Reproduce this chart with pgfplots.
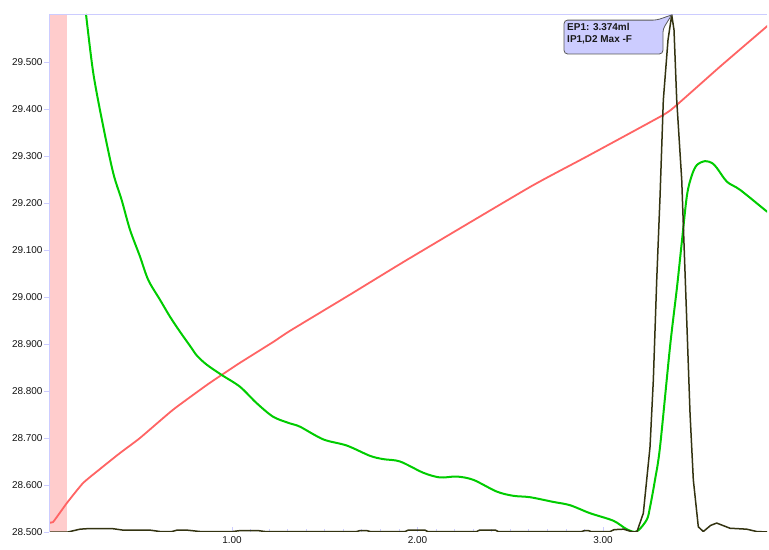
\documentclass[border=0pt]{standalone}
\usepackage{pgfplots}
\pgfplotsset{compat=1.18}
\usepackage{fontspec}
\setmainfont{Liberation Sans}
\definecolor{redc}{RGB}{255,100,100}
\definecolor{greenc}{RGB}{0,204,0}
\definecolor{darkc}{RGB}{51,51,17}
\definecolor{pinkc}{RGB}{255,204,204}
\definecolor{axc}{RGB}{204,204,255}
\definecolor{boxc}{RGB}{204,204,255}
\begin{document}
\begin{tikzpicture}
\begin{axis}[
  scale only axis, width=718bp, height=518bp,
  xmin=0.0135, xmax=3.884, ymin=28.5, ymax=29.602,
  axis line style={draw=none},
  xtick pos=bottom, ytick pos=left,
  xtick={1,2,3}, minor x tick num=9,
  ytick={28.5,28.6,28.7,28.8,28.9,29.0,29.1,29.2,29.3,29.4,29.5},
  xtick align=inside, ytick align=outside,
  major tick length=5bp, minor tick length=3bp,
  every tick/.style={draw=axc, line width=0.8bp},
  x tick label style={/pgf/number format/fixed, /pgf/number format/fixed zerofill, /pgf/number format/precision=2, yshift=-1bp},
  y tick label style={/pgf/number format/fixed, /pgf/number format/fixed zerofill, /pgf/number format/precision=3, /pgf/number format/1000 sep={}, xshift=2bp},
  /pgf/number format/assume math mode=true,
  tick label style={font=\fontsize{10}{12}\selectfont, text=black!92},
  clip=true,
]
\addplot[draw=none, fill=pinkc, forget plot] coordinates {(0.0135,28.5) (0.0135,29.602) (0.1105,29.602) (0.1105,28.5)} -- cycle;

\addplot[redc, line width=1.8bp, line join=round, smooth, tension=0.3] coordinates {
(0.0135,28.521) (0.0350,28.521) (0.1105,28.562) (0.1968,28.604) (0.2884,28.634)
(0.3962,28.668) (0.5040,28.700) (0.6819,28.760) (0.8652,28.813) (0.9515,28.836)
(1.0431,28.860) (1.2210,28.904) (1.3127,28.928) (1.6361,29.005) (1.9434,29.079)
(2.6065,29.234) (2.9137,29.299) (3.3235,29.387) (3.3989,29.409)
(3.6307,29.490) (3.8787,29.574) (3.884,29.576)
};

\addplot[greenc, line width=2bp, smooth, tension=0.5, line join=round] coordinates {
(0.2129,29.602) (0.2523,29.476) (0.3062,29.362) (0.3601,29.263) (0.4054,29.206)
(0.4501,29.143) (0.5040,29.086) (0.5488,29.036) (0.6119,28.994) (0.6658,28.958)
(0.7197,28.926) (0.7736,28.896) (0.8113,28.875)
(0.8636,28.856) (0.9445,28.834) (1.0431,28.809) (1.1332,28.774) (1.2226,28.745)
(1.3127,28.731) (1.3666,28.724) (1.4922,28.697) (1.6183,28.684) (1.7439,28.662)
(1.8156,28.655) (1.9057,28.650) (2.0313,28.626) (2.1213,28.616) (2.2113,28.618)
(2.3008,28.611) (2.4270,28.586) (2.5164,28.577) (2.6065,28.574) (2.7321,28.564)
(2.8221,28.557) (2.9299,28.540) (3.0555,28.524) (3.1278,28.506) (3.1817,28.501)
(3.2356,28.526) (3.2534,28.553) (3.2803,28.611) (3.3073,28.681) (3.3612,28.894)
(3.3989,29.021) (3.4259,29.121) (3.4528,29.217) (3.4798,29.260) (3.5067,29.281)
(3.5499,29.289) (3.5876,29.285) (3.6146,29.274) (3.6685,29.245) (3.7385,29.228)
(3.8733,29.185) (3.884,29.182)
};

\addplot[darkc, line width=1.5bp, line join=round] coordinates {
(0.0135,28.500) (0.1159,28.500) (0.1806,28.506) (0.2183,28.507) (0.3585,28.507)
(0.4124,28.504) (0.5580,28.504) (0.6119,28.501) (0.6765,28.501) (0.7035,28.504)
(0.7574,28.504) (0.8275,28.501) (1.0054,28.501) (1.0431,28.503) (1.1402,28.503)
(1.1779,28.501) (1.6720,28.501) (1.6900,28.503) (1.7260,28.503) (1.7450,28.501)
(1.9330,28.501) (1.9500,28.504) (2.0400,28.504) (2.0550,28.501) (2.3190,28.501)
(2.3350,28.504) (2.4200,28.504) (2.4350,28.501) (2.8850,28.501) (2.9000,28.503)
(2.9200,28.503) (2.9350,28.501) (3.0380,28.501) (3.0600,28.505) (3.1100,28.506)
(3.1617,28.500) (3.1833,28.501) (3.2173,28.540) (3.2534,28.681) (3.2712,28.823)
(3.2895,29.036) (3.3073,29.213) (3.3251,29.419) (3.3504,29.547) (3.3704,29.600)
(3.3827,29.568) (3.3973,29.419) (3.4243,29.249) (3.4474,28.994) (3.4690,28.753)
(3.4868,28.611) (3.5137,28.511) (3.5407,28.501) (3.5800,28.514) (3.6127,28.519)
(3.6844,28.508) (3.7744,28.506) (3.8283,28.501) (3.884,28.500)
};

\draw[axc, line width=0.8bp] (rel axis cs:0,1) -- (rel axis cs:0,0) -- (rel axis cs:1,0);
\draw[axc, line width=0.8bp] (rel axis cs:0,1) -- (rel axis cs:1,1);

\draw[fill=boxc, draw=black!65, line width=0.8bp, rounded corners=3.5bp]
  (axis cs:2.790,29.589) -- (axis cs:3.290,29.589) [sharp corners] -- (axis cs:3.370,29.600)
  [rounded corners=3.5bp] -- (axis cs:3.323,29.570) -- (axis cs:3.323,29.517)
  -- (axis cs:2.790,29.517) -- cycle;
\node[anchor=north west, inner sep=0pt, align=left, font=\fontsize{10}{12}\selectfont\bfseries, text=black!90]
  at (axis cs:2.806,29.583) {EP1: 3.374ml\\IP1,D2 Max -F};

\coordinate (SW) at (rel axis cs:0,0);
\coordinate (NE) at (rel axis cs:1,1);
\end{axis}
\pgfresetboundingbox
\path ([xshift=-49bp,yshift=-18bp]SW) rectangle ([xshift=2bp,yshift=14bp]NE);
\end{tikzpicture}
\end{document}
